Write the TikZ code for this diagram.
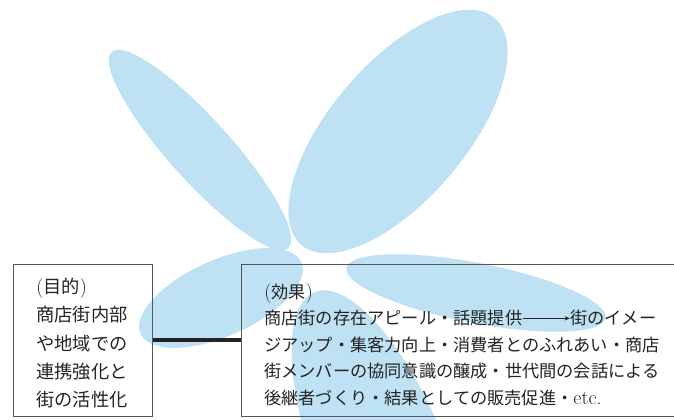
\documentclass[tikz,border=0pt]{standalone}
\usepackage{fontspec}
\newfontfamily\jfont{Noto Sans CJK JP}
\usetikzlibrary{positioning}
\usetikzlibrary{arrows.meta}
\definecolor{petal}{RGB}{190,225,244}
\definecolor{ink}{RGB}{35,35,35}
\definecolor{boxline}{RGB}{85,85,85}
\newcommand{\leadsarrow}{\tikz[baseline=-0.37em]\draw[ink,line width=0.5pt,-{Stealth[length=4pt,width=3.2pt]}] (0,0) -- (2.75em,0);}
\newcommand{\lat}[1]{{\rmfamily\fontsize{15}{15}\selectfont #1}}

\begin{document}
\begin{tikzpicture}[x=0.75pt,y=0.75pt,
  box/.style={draw=boxline,line width=0.8pt,minimum height=114pt,inner sep=0pt},
  boxtext/.style={anchor=north west,inner sep=0pt,align=left,text=ink}]
  \useasboundingbox (0,0) rectangle (674,419);
  \clip (0,0) rectangle (674,419);
  %petals
  \fill[petal] (200,269) ellipse [x radius=132,y radius=31,rotate=-48];
  \fill[petal] (398,287.5) ellipse [x radius=149,y radius=68,rotate=49.6];
  \fill[petal] (221,121) ellipse [x radius=88,y radius=38,rotate=24];
  \fill[petal] (476,126) ellipse [x radius=132,y radius=30,rotate=-11];
  \fill[petal] (382,-40) ellipse [x radius=180,y radius=65,rotate=-68];
  %left
  \node[box,minimum width=104.25pt,anchor=south west] (aim) at (13,2) {};
  \node[boxtext,font=\fontsize{13.7}{21.2}\selectfont\jfont] (aimtext) at ([xshift=17.25pt,yshift=-10.5pt]aim.north west)
    {\lat{(}目的\lat{)}\\商店街内部\\や地域での\\連携強化と\\街の活性化};
  %right
  \node[box,minimum width=330pt,right=66pt of aim] (effect) {};
  \node[boxtext,font=\fontsize{12.9}{19.9}\selectfont\jfont] (effecttext) at ([xshift=17.25pt,yshift=-14.25pt]effect.north west)
    {\lat{(}効果\lat{)}\\
     商店街の存在アピール・話題提供\leadsarrow 街のイメー\\
     ジアップ・集客力向上・消費者とのふれあい・商店\\
     街メンバーの協同意識の醸成・世代間の会話による\\
     後継者づくり・結果としての販売促進・\lat{etc.}};
  %link
  \draw[ink,line width=3pt] (aim) -- (effect);
\end{tikzpicture}
\end{document}
